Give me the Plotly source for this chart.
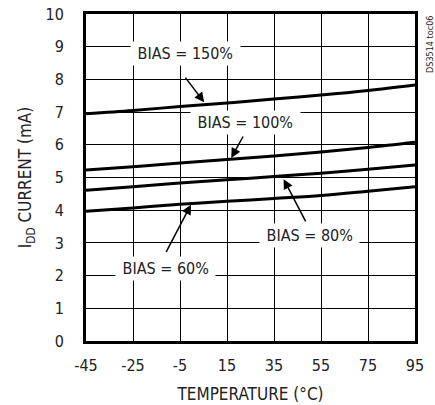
import plotly.graph_objects as go

temps = [-45, -25, -5, 15, 35, 55, 75, 95]
bias_150 = [6.95, 7.05, 7.17, 7.28, 7.40, 7.52, 7.66, 7.83]
bias_100 = [5.23, 5.33, 5.44, 5.55, 5.66, 5.78, 5.92, 6.08]
bias_80 = [4.61, 4.72, 4.83, 4.93, 5.03, 5.13, 5.25, 5.38]
bias_60 = [3.97, 4.07, 4.18, 4.27, 4.36, 4.45, 4.58, 4.72]

x_ticks = [-45, -25, -5, 15, 35, 55, 75, 95]
y_ticks = [0, 1, 2, 3, 4, 5, 6, 7, 8, 9, 10]

FONT = "DejaVu Sans Condensed, Liberation Sans Narrow, Arial Narrow, Liberation Sans, sans-serif"

fig = go.Figure()
for ys in [bias_150, bias_100, bias_80, bias_60]:
    fig.add_trace(go.Scatter(x=temps, y=ys, mode="lines",
                             line=dict(color="black", width=3, shape="spline"),
                             showlegend=False, hoverinfo="skip"))

labels = [
    (" BIAS = 150% ", -2.8, 8.78),
    (" BIAS = 100% ", 23.0, 6.68),
    (" BIAS = 80% ", 50.3, 3.23),
    (" BIAS = 60% ", -11.2, 2.22),
]
for txt, lx, ly in labels:
    fig.add_annotation(x=lx, y=ly, xref="x", yref="y", text=txt, showarrow=False,
                       bgcolor="white", borderpad=2,
                       font=dict(family=FONT, size=16, color="#222"))

arrows = [
    (-3.2, 8.10, 5.3, 7.30),
    (22.2, 6.30, 16.8, 5.60),
    (48.8, 3.61, 39.1, 4.95),
    (-11.2, 2.68, -0.35, 4.17),
]
for ax_, ay_, hx, hy in arrows:
    fig.add_annotation(x=hx, y=hy, ax=ax_, ay=ay_, xref="x", yref="y",
                       axref="x", ayref="y", text="", showarrow=True,
                       arrowhead=2, arrowsize=1.3, arrowwidth=1.5,
                       arrowcolor="black", standoff=0, startstandoff=0)

fig.add_annotation(x=(430 - 86) / (415 - 86), y=(341 - 45) / (341 - 14),
                   xref="paper", yref="paper", text="DS3514 toc06",
                   showarrow=False, textangle=-90, xanchor="center", yanchor="middle",
                   font=dict(family=FONT, size=9, color="#222"))

fig.update_layout(
    width=435, height=405,
    margin=dict(l=86, r=20, t=14, b=64),
    paper_bgcolor="white", plot_bgcolor="white",
    font=dict(family=FONT, size=16, color="#222"),
    xaxis=dict(range=[-45, 95], tickvals=x_ticks, ticktext=[str(v) for v in x_ticks],
               showgrid=True, gridcolor="black", gridwidth=1,
               showline=True, linecolor="black", linewidth=3, mirror=True,
               zeroline=False, ticks="", ticklabelstandoff=8, automargin=False,
               title=dict(text="TEMPERATURE (°C)", font=dict(family=FONT, size=17, color="#222"), standoff=14)),
    yaxis=dict(range=[0, 10], tickvals=y_ticks,
               showgrid=True, gridcolor="black", gridwidth=1,
               showline=True, linecolor="black", linewidth=3, mirror=True,
               zeroline=False, ticks="", ticklabelstandoff=16, automargin=False,
               title=dict(text="I<sub>DD</sub> CURRENT (mA)", font=dict(family=FONT, size=17, color="#222"), standoff=10)),
)

fig.write_html("out.html")
